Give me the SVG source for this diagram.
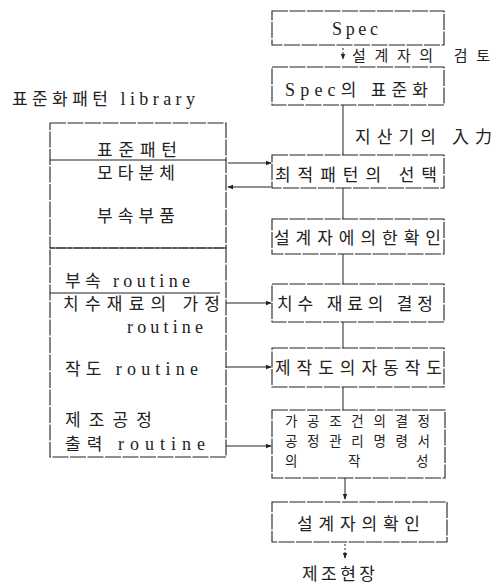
<svg xmlns="http://www.w3.org/2000/svg" width="502" height="585" viewBox="0 0 502 585">
<defs>
<style>
.box{fill:none;stroke:#222;stroke-width:1.1;stroke-dasharray:16 1.5}
.ln{fill:none;stroke:#222;stroke-width:1}
.k{font-family:"Noto Sans CJK KR","Noto Sans",sans-serif;font-size:17px;fill:#222}
.e{font-family:"Liberation Serif","Noto Sans CJK KR",serif;font-size:18px;fill:#222}
.s{font-size:13.5px}
</style>
<marker id="ah" viewBox="0 0 8 8" refX="7" refY="4" markerWidth="6" markerHeight="6" orient="auto" markerUnits="userSpaceOnUse">
<path d="M0,1 L8,4 L0,7 Z" fill="#222"/>
</marker>
</defs>
<rect width="502" height="585" fill="#fff"/>

<g id="spec"><rect class="box" x="272" y="11" width="172" height="34"/><text class="e" x="332" y="35" textLength="46" lengthAdjust="spacing">Spec</text></g>
<g id="review-label"><text class="k" x="352" y="61" textLength="138" lengthAdjust="spacing" style="font-size:15px">설계자의 검토</text></g>
<g id="spec-std"><rect class="box" x="272" y="67" width="172" height="38"/><text class="k" x="285" y="96" textLength="143" lengthAdjust="spacing"><tspan class="e">Spec</tspan>의 표준화</text></g>
<g id="input-label"><text class="k" x="355" y="143" textLength="137" lengthAdjust="spacing">지산기의 入力</text></g>
<g id="select"><rect class="box" x="272" y="155" width="172" height="33"/><text class="k" x="275" y="181" textLength="162" lengthAdjust="spacing">최적패턴의 선택</text></g>
<g id="confirm1"><rect class="box" x="272" y="219" width="172" height="35"/><text class="k" x="274" y="244" textLength="167" lengthAdjust="spacing">설계자에의한확인</text></g>
<g id="dim"><rect class="box" x="272" y="284" width="172" height="38"/><text class="k" x="277" y="310" textLength="156" lengthAdjust="spacing">치수 재료의 결정</text></g>
<g id="draw"><rect class="box" x="272" y="348" width="172" height="39"/><text class="k" x="275" y="374" textLength="167" lengthAdjust="spacing">제작도의자동작도</text></g>
<g id="process"><rect class="box" x="272" y="410" width="173" height="68"/>
<text class="k s" x="285" y="426" textLength="145" lengthAdjust="spacing">가공조건의결정</text>
<text class="k s" x="285" y="446" textLength="145" lengthAdjust="spacing">공정관리명령서</text>
<text class="k s" x="285" y="466">의</text><text class="k s" x="348" y="466">작</text><text class="k s" x="416" y="466">성</text></g>
<g id="confirm2"><rect class="box" x="272" y="502" width="175" height="40"/><text class="k" x="297" y="530" textLength="123" lengthAdjust="spacing">설계자의확인</text></g>
<g id="site"><text class="k" x="302" y="580" textLength="73" lengthAdjust="spacing">제조현장</text></g>

<g id="library">
<text class="k" x="12" y="105" textLength="183" lengthAdjust="spacing">표준화패턴 <tspan class="e">library</tspan></text>
<rect class="box" x="50" y="123" width="176" height="125"/>
<rect class="box" x="50" y="248" width="176" height="209"/>
<line class="ln" x1="50" y1="160" x2="226" y2="160"/>
<line class="ln" x1="50" y1="293" x2="220" y2="293"/>
<text class="k" x="97" y="156" textLength="80" lengthAdjust="spacing">표준패턴</text>
<text class="k" x="97" y="179" textLength="78" lengthAdjust="spacing">모타분체</text>
<text class="k" x="97" y="222" textLength="78" lengthAdjust="spacing">부속부품</text>
<text class="k" x="65" y="287" textLength="125" lengthAdjust="spacing">부속 <tspan class="e">routine</tspan></text>
<text class="k" x="63" y="310" textLength="157" lengthAdjust="spacing">치수재료의 가정</text>
<text class="e" x="127" y="333" textLength="76" lengthAdjust="spacing">routine</text>
<text class="k" x="65" y="375" textLength="133" lengthAdjust="spacing">작도 <tspan class="e">routine</tspan></text>
<text class="k" x="65" y="426" textLength="87" lengthAdjust="spacing">제조공정</text>
<text class="k" x="65" y="450" textLength="140" lengthAdjust="spacing">출력 <tspan class="e">routine</tspan></text>
</g>

<g id="connectors">
<line class="ln" x1="343" y1="48" x2="343" y2="59" marker-end="url(#ah)" stroke-dasharray="2 2"/>
<line class="ln" x1="343" y1="105" x2="343" y2="155"/>
<line class="ln" x1="343" y1="188" x2="343" y2="219"/>
<line class="ln" x1="343" y1="254" x2="343" y2="284"/>
<line class="ln" x1="343" y1="322" x2="343" y2="348"/>
<line class="ln" x1="343" y1="387" x2="343" y2="410"/>
<line class="ln" x1="345" y1="478" x2="345" y2="499" marker-end="url(#ah)"/>
<line class="ln" x1="345" y1="544" x2="345" y2="558" marker-end="url(#ah)" stroke-dasharray="2 2"/>
<line class="ln" x1="228" y1="163" x2="271" y2="163" marker-end="url(#ah)"/>
<line class="ln" x1="271" y1="187" x2="228" y2="187" marker-end="url(#ah)"/>
<line class="ln" x1="226" y1="303" x2="271" y2="303" marker-end="url(#ah)"/>
<line class="ln" x1="226" y1="367" x2="271" y2="367" marker-end="url(#ah)"/>
<line class="ln" x1="226" y1="446" x2="271" y2="446" marker-end="url(#ah)"/>
</g>
</svg>
